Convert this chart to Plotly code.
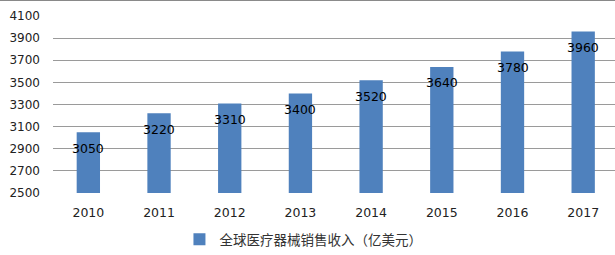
import plotly.graph_objects as go

years = ["2010", "2011", "2012", "2013", "2014", "2015", "2016", "2017"]
revenue = [3050, 3220, 3310, 3400, 3520, 3640, 3780, 3960]
series_name = "全球医疗器械销售收入（亿美元）"
y_ticks = [2500, 2700, 2900, 3100, 3300, 3500, 3700, 3900, 4100]

FONT = "DejaVu Sans, Noto Sans CJK SC, sans-serif"

fig = go.Figure()
fig.add_trace(go.Bar(
    x=years, y=revenue, name=series_name,
    marker=dict(color="#4F81BD", line=dict(width=0)),
    showlegend=True,
))

for i, v in enumerate(revenue):
    fig.add_annotation(x=i, y=v, xref="x", yref="y", text=str(v), showarrow=False,
                       yshift=-16, font=dict(family=FONT, size=12.5, color="#000000"))

fig.add_shape(type="line", xref="paper", yref="paper",
              x0=-0.2, x1=1.1, y0=1.0876, y1=1.0876,
              line=dict(color="#888888", width=1))

fig.update_layout(
    width=615, height=255,
    margin=dict(l=53, r=0, t=16, b=62),
    paper_bgcolor="white", plot_bgcolor="white",
    bargap=0.67,
    font=dict(family=FONT, size=12, color="#222222"),
    showlegend=True,
    legend=dict(orientation="h", x=0.225, xanchor="left", y=-0.265, yanchor="middle",
                font=dict(family=FONT, size=13.5, color="#333333"),
                itemwidth=30),
    xaxis=dict(type="category", range=[-0.5, 7.45], showgrid=False, showline=False,
               ticks="", ticklabelstandoff=10, tickfont=dict(size=12.5, color="#222222")),
    yaxis=dict(range=[2500, 4100], tickvals=y_ticks, showgrid=True,
               gridcolor="#9a9a9a", gridwidth=1, zeroline=False, showline=False,
               ticks="", ticklabelstandoff=12, tickfont=dict(size=12, color="#222222")),
)

fig.write_html("out.html")
